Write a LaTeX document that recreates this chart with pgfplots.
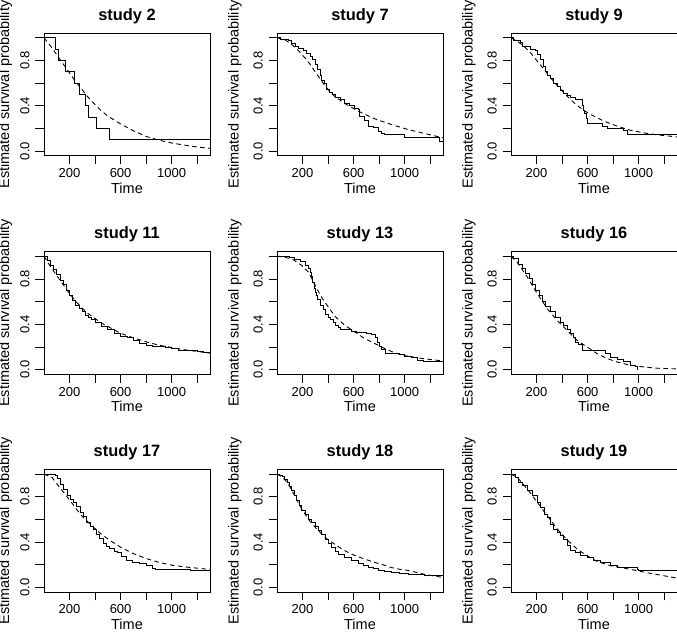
\documentclass[border=0pt]{standalone}
\usepackage{fontspec}
\setmainfont{Liberation Sans}
\usepackage{pgfplots}
\pgfplotsset{compat=1.18}
\pgfplotsset{
  km/.style={
    scale only axis, width=166pt, height=122.4pt, anchor=north west,
    xmin=0, xmax=1300, ymin=-0.04, ymax=1.04,
    xtick={200,400,600,800,1000,1200}, xticklabels={200,,600,,1000,},
    ytick={0,0.2,0.4,0.6,0.8,1}, yticklabels={0.0,,0.4,,0.8,},
    xtick pos=bottom, ytick pos=left, tick align=outside,
    major tick length=8.5pt,
    tick style={black, line width=0.75pt},
    axis line style={black, line width=0.8pt},
    tick label style={font=\fontsize{13}{15}\selectfont},
    xticklabel style={anchor=base, inner sep=0pt, yshift=-13.5pt},
    yticklabel style={xshift=-6pt, rotate=90, anchor=base, inner sep=0pt},
    title style={at={(axis description cs:0.5,1)}, anchor=base, yshift=7.3pt, inner sep=0pt, font=\fontsize{16.4}{18}\selectfont\bfseries},
    xlabel={Time}, ylabel={Estimated survival probability},
    label style={font=\fontsize{14.5}{16}\selectfont},
    xlabel style={at={(axis description cs:0.5,0)}, anchor=base, yshift=-37.8pt, inner sep=0pt},
  },
  colA/.style={ylabel style={at={(axis description cs:-0.2108,0.5)}, anchor=base, inner sep=0pt}},
  colB/.style={ylabel style={at={(axis description cs:-0.2319,0.5)}, anchor=base, inner sep=0pt}},
  kmline/.style={black, line width=0.9pt, const plot},
  fitline/.style={black, line width=0.9pt, dash pattern=on 4.5pt off 3.5pt},
}
\begin{document}
\begin{tikzpicture}
\useasboundingbox (0,0) rectangle (677pt,-632pt);
% ---------- row 1 ----------
\begin{axis}[km, colA, at={(44pt,-33.3pt)}, title={study 2}]
\addplot[kmline] coordinates {(0,1)(89,0.9)(115,0.8)(166,0.7)(236,0.6)(277,0.5)(321,0.4)(347,0.3)(412,0.2)(510,0.1)(1300,0.1)};
\addplot[fitline] coordinates {(0,1)(50,0.93)(100,0.85)(150,0.77)(200,0.69)(250,0.61)(300,0.54)(350,0.47)(400,0.41)(450,0.355)(500,0.31)(600,0.24)(700,0.18)(800,0.13)(900,0.097)(1000,0.072)(1100,0.053)(1200,0.037)(1300,0.025)};
\end{axis}
\begin{axis}[km, colB, at={(277pt,-33.3pt)}, title={study 7}]
\addplot[kmline] coordinates {(0,1)(26,0.985)(91,0.975)(117,0.95)(143,0.926)(169,0.905)(208,0.89)(234,0.865)(260,0.835)(278,0.805)(299,0.765)(319,0.72)(338,0.665)(351,0.62)(369,0.6)(390,0.545)(408,0.515)(434,0.5)(455,0.47)(494,0.455)(532,0.425)(571,0.40)(610,0.38)(636,0.37)(649,0.31)(688,0.275)(714,0.22)(753,0.205)(792,0.175)(818,0.155)(844,0.15)(1000,0.118)(1273,0.09)(1300,0.09)};
\addplot[fitline] coordinates {(0,1)(60,0.985)(117,0.94)(170,0.885)(221,0.82)(260,0.765)(299,0.70)(340,0.635)(377,0.575)(415,0.525)(455,0.48)(532,0.42)(636,0.353)(766,0.285)(896,0.235)(1026,0.191)(1156,0.156)(1300,0.118)};
\end{axis}
\begin{axis}[km, colB, at={(511pt,-33.3pt)}, title={study 9}]
\addplot[kmline] coordinates {(0,1)(23,0.98)(76,0.96)(89,0.926)(154,0.90)(193,0.89)(211,0.85)(232,0.81)(253,0.75)(271,0.70)(289,0.67)(310,0.64)(336,0.60)(362,0.57)(388,0.54)(414,0.51)(440,0.49)(466,0.47)(505,0.455)(557,0.40)(566,0.36)(576,0.33)(590,0.29)(596,0.245)(713,0.22)(753,0.2)(883,0.18)(909,0.15)(1300,0.15)};
\addplot[fitline] coordinates {(0,1)(50,0.97)(102,0.926)(155,0.865)(206,0.794)(260,0.72)(310,0.647)(362,0.58)(414,0.515)(466,0.455)(518,0.403)(570,0.36)(622,0.324)(727,0.265)(831,0.221)(935,0.185)(1039,0.162)(1143,0.144)(1300,0.126)};
\end{axis}
% ---------- row 2 ----------
\begin{axis}[km, colA, at={(44pt,-251.7pt)}, title={study 11}]
\addplot[kmline] coordinates {(0,1)(25,0.96)(50,0.92)(75,0.88)(100,0.84)(125,0.79)(150,0.75)(175,0.70)(200,0.65)(225,0.61)(250,0.57)(275,0.54)(300,0.51)(325,0.48)(350,0.46)(375,0.44)(400,0.42)(450,0.38)(500,0.35)(550,0.32)(600,0.29)(650,0.28)(700,0.26)(750,0.23)(800,0.21)(850,0.205)(900,0.20)(950,0.195)(1000,0.19)(1050,0.17)(1100,0.17)(1150,0.165)(1200,0.16)(1250,0.15)(1300,0.14)};
\addplot[fitline] coordinates {(0,1)(50,0.91)(100,0.83)(150,0.75)(200,0.67)(250,0.60)(300,0.54)(350,0.49)(400,0.45)(450,0.41)(500,0.38)(600,0.32)(700,0.28)(800,0.245)(900,0.215)(1000,0.195)(1100,0.175)(1200,0.16)(1300,0.145)};
\end{axis}
\begin{axis}[km, colB, at={(277pt,-251.7pt)}, title={study 13}]
\addplot[kmline] coordinates {(0,1)(60,0.995)(100,0.985)(140,0.97)(180,0.95)(220,0.92)(245,0.89)(260,0.86)(270,0.82)(280,0.77)(290,0.72)(300,0.68)(310,0.65)(320,0.62)(340,0.57)(360,0.53)(380,0.49)(400,0.46)(420,0.44)(440,0.42)(460,0.39)(480,0.37)(500,0.355)(550,0.35)(580,0.34)(620,0.33)(700,0.32)(740,0.31)(770,0.28)(790,0.24)(800,0.2)(820,0.18)(850,0.14)(960,0.13)(1000,0.12)(1050,0.11)(1100,0.08)(1150,0.075)(1300,0.075)};
\addplot[fitline] coordinates {(0,1)(13,1.0)(117,0.977)(195,0.918)(247,0.859)(299,0.742)(351,0.633)(403,0.551)(455,0.469)(532,0.39)(610,0.331)(688,0.273)(766,0.229)(844,0.185)(922,0.147)(1000,0.123)(1104,0.103)(1208,0.088)(1300,0.076)};
\end{axis}
\begin{axis}[km, colB, at={(511pt,-251.7pt)}, title={study 16}]
\addplot[kmline] coordinates {(0,1)(20,0.98)(55,0.96)(62,0.93)(89,0.89)(115,0.845)(141,0.80)(167,0.75)(193,0.70)(219,0.65)(245,0.60)(271,0.56)(310,0.51)(349,0.46)(388,0.42)(414,0.39)(440,0.35)(466,0.32)(492,0.28)(505,0.24)(531,0.22)(557,0.17)(740,0.14)(779,0.11)(831,0.09)(883,0.07)(935,0.04)(974,0.03)(990,0.0)};
\addplot[fitline] coordinates {(0,1)(49,0.947)(128,0.815)(206,0.669)(284,0.537)(362,0.434)(440,0.346)(518,0.258)(596,0.199)(674,0.141)(753,0.097)(831,0.067)(935,0.038)(1039,0.023)(1143,0.012)(1300,0.006)};
\end{axis}
% ---------- row 3 ----------
\begin{axis}[km, colA, at={(44pt,-469.5pt)}, title={study 17}]
\addplot[kmline] coordinates {(0,1)(76,0.995)(89,0.985)(102,0.96)(128,0.91)(153,0.865)(180,0.81)(205,0.775)(231,0.75)(257,0.71)(283,0.66)(309,0.625)(334,0.575)(360,0.535)(386,0.51)(412,0.47)(437,0.43)(463,0.39)(489,0.36)(515,0.34)(553,0.32)(579,0.31)(605,0.275)(644,0.235)(695,0.22)(747,0.21)(799,0.19)(850,0.17)(876,0.16)(1080,0.155)(1150,0.15)(1300,0.15)};
\addplot[fitline] coordinates {(0,1)(63,0.97)(102,0.912)(154,0.838)(205,0.765)(283,0.647)(360,0.559)(437,0.48)(515,0.415)(592,0.36)(695,0.30)(799,0.255)(902,0.22)(1005,0.195)(1108,0.18)(1211,0.168)(1300,0.158)};
\end{axis}
\begin{axis}[km, colB, at={(277pt,-469.5pt)}, title={study 18}]
\addplot[kmline] coordinates {(0,1)(20,0.99)(39,0.976)(58,0.95)(78,0.926)(97,0.89)(117,0.853)(136,0.81)(156,0.765)(175,0.72)(195,0.682)(221,0.64)(247,0.603)(273,0.57)(299,0.535)(325,0.50)(351,0.471)(377,0.426)(403,0.39)(429,0.353)(455,0.32)(481,0.294)(532,0.265)(584,0.241)(636,0.212)(675,0.19)(714,0.176)(753,0.165)(792,0.153)(844,0.142)(896,0.132)(960,0.125)(1026,0.118)(1090,0.113)(1156,0.109)(1230,0.105)(1300,0.103)};
\addplot[fitline] coordinates {(0,1)(39,0.975)(78,0.93)(117,0.855)(156,0.77)(195,0.69)(247,0.60)(299,0.53)(351,0.47)(377,0.44)(440,0.39)(506,0.34)(570,0.30)(636,0.27)(700,0.245)(766,0.22)(830,0.20)(896,0.175)(960,0.16)(1026,0.15)(1100,0.13)(1156,0.115)(1230,0.10)(1300,0.088)};
\end{axis}
\begin{axis}[km, colB, at={(511pt,-469.5pt)}, title={study 19}]
\addplot[kmline] coordinates {(0,1)(36,0.97)(62,0.926)(89,0.897)(128,0.853)(167,0.809)(206,0.75)(232,0.706)(258,0.647)(284,0.618)(310,0.559)(336,0.515)(362,0.485)(388,0.456)(414,0.426)(440,0.368)(466,0.324)(505,0.309)(544,0.28)(596,0.26)(648,0.235)(701,0.22)(779,0.19)(831,0.176)(987,0.162)(1000,0.145)(1300,0.145)};
\addplot[fitline] coordinates {(0,1)(49,0.97)(128,0.868)(206,0.75)(284,0.632)(362,0.515)(440,0.418)(518,0.338)(596,0.279)(674,0.229)(779,0.191)(883,0.171)(987,0.147)(1091,0.124)(1195,0.103)(1300,0.082)};
\end{axis}
\end{tikzpicture}
\end{document}
